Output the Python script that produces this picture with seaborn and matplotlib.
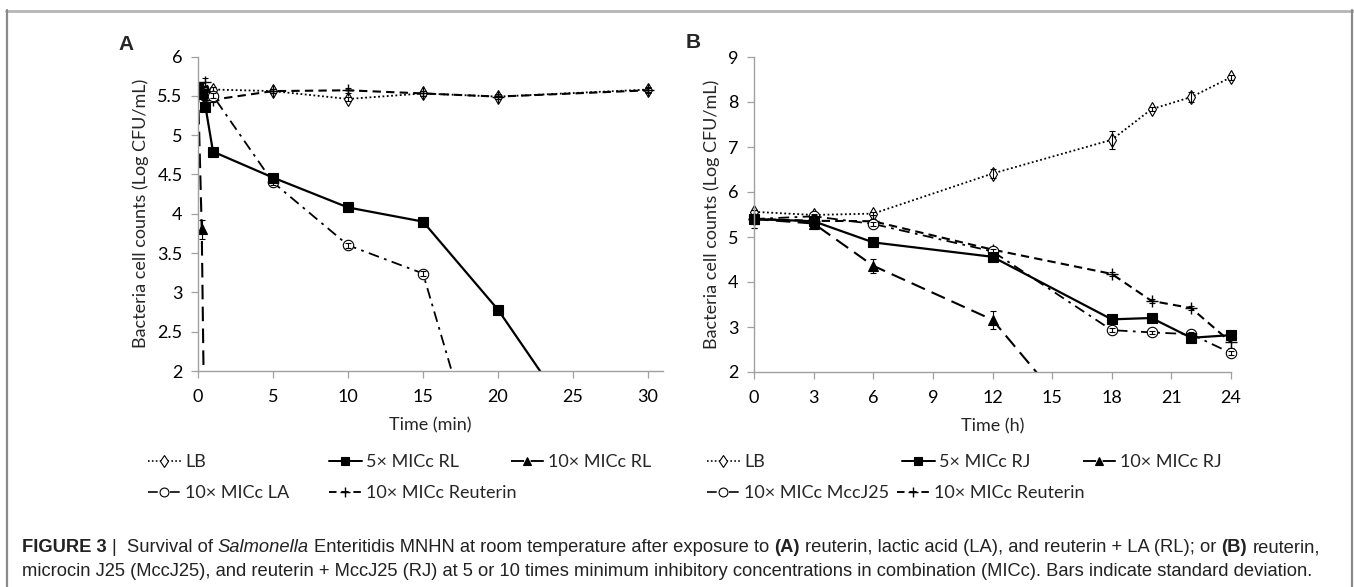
import matplotlib
matplotlib.use("Agg")
import matplotlib.pyplot as plt
from matplotlib.lines import Line2D
import seaborn as sns

# ==================== data ====================
# panel A : time in minutes
tA_lb = [0, 0.5, 1, 5, 10, 15, 20, 30]
lbA = [5.60, 5.55, 5.58, 5.56, 5.46, 5.53, 5.49, 5.58]
lbA_sd = [0.03, 0.03, 0.03, 0.03, 0.03, 0.03, 0.03, 0.03]

tA_rl5 = [0, 0.25, 0.5, 1, 5, 10, 15, 20, 30]
rl5 = [5.60, 5.52, 5.36, 4.79, 4.46, 4.08, 3.90, 2.78, 0.0]
rl5_sd = [0.05, 0.05, 0.05, 0.03, 0.03, 0.03, 0.03, 0.03, 0.0]

tA_rl10 = [0, 0.25, 0.5]
rl10 = [5.60, 3.80, 0.0]
rl10_sd = [0.05, 0.12, 0.0]

tA_la = [0, 0.5, 1, 5, 10, 15, 20]
la10 = [5.60, 5.50, 5.50, 4.40, 3.60, 3.24, 0.0]
la10_sd = [0.05, 0.05, 0.03, 0.03, 0.03, 0.03, 0.0]

tA_reu = [0, 0.5, 1, 5, 10, 15, 20, 30]
reuA = [5.60, 5.68, 5.45, 5.56, 5.57, 5.53, 5.49, 5.57]
reuA_sd = [0.05, 0.05, 0.03, 0.03, 0.03, 0.03, 0.03, 0.03]

# panel B : time in hours
tB = [0, 3, 6, 12, 18, 20, 22, 24]
lbB = [5.56, 5.49, 5.52, 6.41, 7.16, 7.84, 8.11, 8.55]
lbB_sd = [0.05, 0.04, 0.04, 0.10, 0.20, 0.05, 0.11, 0.05]

rj5 = [5.40, 5.35, 4.88, 4.56, 3.17, 3.20, 2.76, 2.82]
rj5_sd = [0.20, 0.13, 0.05, 0.06, 0.05, 0.05, 0.05, 0.05]

tB_rj10 = [0, 3, 6, 12, 18]
rj10 = [5.40, 5.30, 4.36, 3.16, 0.0]
rj10_sd = [0.20, 0.13, 0.15, 0.20, 0.0]

mcc10 = [5.40, 5.46, 5.29, 4.68, 2.93, 2.88, 2.84, 2.42]
mcc10_sd = [0.05, 0.05, 0.04, 0.05, 0.04, 0.04, 0.04, 0.04]

reuB = [5.40, 5.36, 5.35, 4.72, 4.18, 3.58, 3.42, 2.66]
reuB_sd = [0.05, 0.05, 0.05, 0.06, 0.05, 0.05, 0.05, 0.12]

labels_A = ["LB", "5× MICc RL", "10× MICc RL", "10× MICc LA", "10× MICc Reuterin"]
labels_B = ["LB", "5× MICc RJ", "10× MICc RJ", "10× MICc MccJ25", "10× MICc Reuterin"]

caption_1 = [("FIGURE 3", "bold", "normal", True),
             ("|  Survival of", "normal", "normal", True),
             ("Salmonella", "normal", "italic", True),
             ("Enteritidis MNHN at room temperature after exposure to", "normal", "normal", True),
             ("(A)", "bold", "normal", True),
             ("reuterin, lactic acid (LA), and reuterin + LA (RL); or", "normal", "normal", True),
             ("(B)", "bold", "normal", True),
             ("reuterin,", "normal", "normal", False)]
caption_2 = ("microcin J25 (MccJ25), and reuterin + MccJ25 (RJ) at 5 or 10 times minimum "
             "inhibitory concentrations in combination (MICc). Bars indicate standard deviation.")

# ==================== styles ====================
ST_LB = dict(ls=(0, (1, 1.4)), lw=1.3, m="d", ms=7.5, mfc="white", mew=0.8)
ST_5 = dict(ls="-", lw=1.6, m="s", ms=7.5, mfc="black", mew=0.8)
ST_10 = dict(ls=(0, (7, 3.5)), lw=1.5, m="^", ms=7.5, mfc="black", mew=0.8)
ST_LA = dict(ls=(0, (6, 3, 1.5, 3)), lw=1.3, m="o", ms=7.5, mfc="white", mew=0.8)
ST_REU = dict(ls=(0, (4, 2.5)), lw=1.5, m="+", ms=8.5, mfc="black", mew=1.0)
styles = [ST_LB, ST_5, ST_10, ST_LA, ST_REU]

W, H = 1354, 587
GRAY = "#a0a0a0"
FS = 13

sns.set_theme(style="white")
plt.rcParams["font.family"] = ["Lato", "DejaVu Sans"]
plt.rcParams["axes.unicode_minus"] = False

fig = plt.figure(figsize=(W / 100, H / 100), dpi=100)
fig.patch.set_facecolor("white")

axA = fig.add_axes([198 / W, 1 - 371 / H, (663 - 198) / W, (371 - 56.5) / H])
axB = fig.add_axes([754 / W, 1 - 372 / H, (1231 - 754) / W, (372 - 57) / H])


def draw(ax, t, y, sd, st, clip=True):
    sns.lineplot(x=t, y=y, ax=ax, color="black", linestyle=st["ls"], linewidth=st["lw"],
                 marker=st["m"], markersize=st["ms"], markerfacecolor=st["mfc"],
                 markeredgecolor="black", markeredgewidth=st["mew"],
                 sort=False, errorbar=None, legend=False, clip_on=clip)
    ax.errorbar(t, y, yerr=sd, fmt="none", ecolor="black", elinewidth=0.8,
                capsize=2, capthick=0.8, clip_on=clip)


# 画图顺序: 方块最后画在最上面
draw(axA, tA_lb, lbA, lbA_sd, ST_LB)
draw(axA, tA_reu, reuA, reuA_sd, ST_REU)
draw(axA, tA_la, la10, la10_sd, ST_LA)
draw(axA, tA_rl10, rl10, rl10_sd, ST_10)
draw(axA, tA_rl5, rl5, rl5_sd, ST_5)

draw(axB, tB, lbB, lbB_sd, ST_LB, clip=False)
draw(axB, tB, reuB, reuB_sd, ST_REU, clip=False)
draw(axB, tB, mcc10, mcc10_sd, ST_LA, clip=False)
draw(axB, tB_rj10, rj10, rj10_sd, ST_10)
draw(axB, tB, rj5, rj5_sd, ST_5, clip=False)

axA.set_xlim(0, 31)
axA.set_ylim(2, 6)
axA.set_xticks(range(0, 31, 5))
axA.set_yticks([2, 2.5, 3, 3.5, 4, 4.5, 5, 5.5, 6])
axA.set_yticklabels(["2", "2.5", "3", "3.5", "4", "4.5", "5", "5.5", "6"])
axA.set_xlabel("Time (min)")

axB.set_xlim(0, 24)
axB.set_ylim(2, 9)
axB.set_xticks(range(0, 25, 3))
axB.set_yticks(range(2, 10))
axB.set_xlabel("Time (h)")

for ax in (axA, axB):
    sns.despine(ax=ax)
    for sp in ("left", "bottom"):
        ax.spines[sp].set_color(GRAY)
        ax.spines[sp].set_linewidth(1.0)
    ax.tick_params(axis="both", which="major", direction="out", length=5, width=0.9,
                   color=GRAY, labelsize=FS, labelcolor="black", pad=6,
                   bottom=True, left=True)
    ax.tick_params(axis="x", pad=8)
    ax.set_ylabel("Bacteria cell counts (Log CFU/mL)", fontsize=FS, labelpad=6)
    ax.xaxis.label.set_fontsize(FS)
    ax.xaxis.labelpad = 9
    ax.set_facecolor("white")

fig.text(126 / W, 1 - 45 / H, "A", fontsize=15, fontweight="bold", ha="center", va="center",
         family=["Liberation Sans", "DejaVu Sans"])
fig.text(693 / W, 1 - 43 / H, "B", fontsize=15, fontweight="bold", ha="center", va="center",
         family=["Liberation Sans", "DejaVu Sans"])

renderer = fig.canvas.get_renderer()


# ==================== legends (Excel 风格, 每一项单独放) ====================
def handle(st):
    return Line2D([], [], color="black", linestyle=st["ls"], linewidth=st["lw"] * 0.9,
                  marker=st["m"], markersize=st["ms"] * 0.85, markerfacecolor=st["mfc"],
                  markeredgecolor="black", markeredgewidth=st["mew"])


def entry(lab, st, x, y):
    return fig.legend(handles=[handle(st)], labels=[lab], loc="center left",
                      bbox_to_anchor=(x / W, 1 - y / H), frameon=False, borderpad=0,
                      borderaxespad=0, handlelength=1.8, handletextpad=0.25, fontsize=FS)


pos_A = [(148, 462), (329, 462), (511, 462), (148, 493), (329, 493)]
pos_B = [(707, 462), (902, 462), (1083, 462), (707, 493), None]
for labels, pos in ((labels_A, pos_A), (labels_B, pos_B)):
    prev = None
    for lab, st, p in zip(labels, styles, pos):
        if p is None:
            # 紧跟在前一项后面
            bb = prev.get_window_extent(renderer=renderer)
            p = (bb.x1 + 8, 493)
        prev = entry(lab, st, p[0], p[1])

# ==================== caption ====================
cap_family = ["Liberation Sans", "DejaVu Sans"]
CFS = 13.2


def width_of(s, **kw):
    t = fig.text(0, 0, s, **kw)
    w = t.get_window_extent(renderer=renderer).width
    t.remove()
    return w


space_w = (width_of("x x", fontsize=CFS, family=cap_family)
           - width_of("xx", fontsize=CFS, family=cap_family))

x = 22
for s, weight, style, sp in caption_1:
    t = fig.text(x / W, 1 - 548 / H, s, fontsize=CFS, fontweight=weight, fontstyle=style,
                 family=cap_family, ha="left", va="center", color="#222222")
    x += t.get_window_extent(renderer=renderer).width + (space_w if sp else 0)
fig.text(22 / W, 1 - 571 / H, caption_2, fontsize=CFS, family=cap_family, ha="left",
         va="center", color="#222222")

# ==================== frame ====================
fig.add_artist(Line2D([6 / W, 1], [1 - 10.5 / H] * 2, transform=fig.transFigure,
                      color="#b5b5b5", lw=2))
fig.add_artist(Line2D([6.5 / W] * 2, [0, 1 - 10 / H], transform=fig.transFigure,
                      color="#8a8a8a", lw=1.6))
fig.add_artist(Line2D([1352 / W] * 2, [0, 1 - 10 / H], transform=fig.transFigure,
                      color="#8a8a8a", lw=1.6))

fig.savefig("out.png", dpi=100, facecolor="white")
